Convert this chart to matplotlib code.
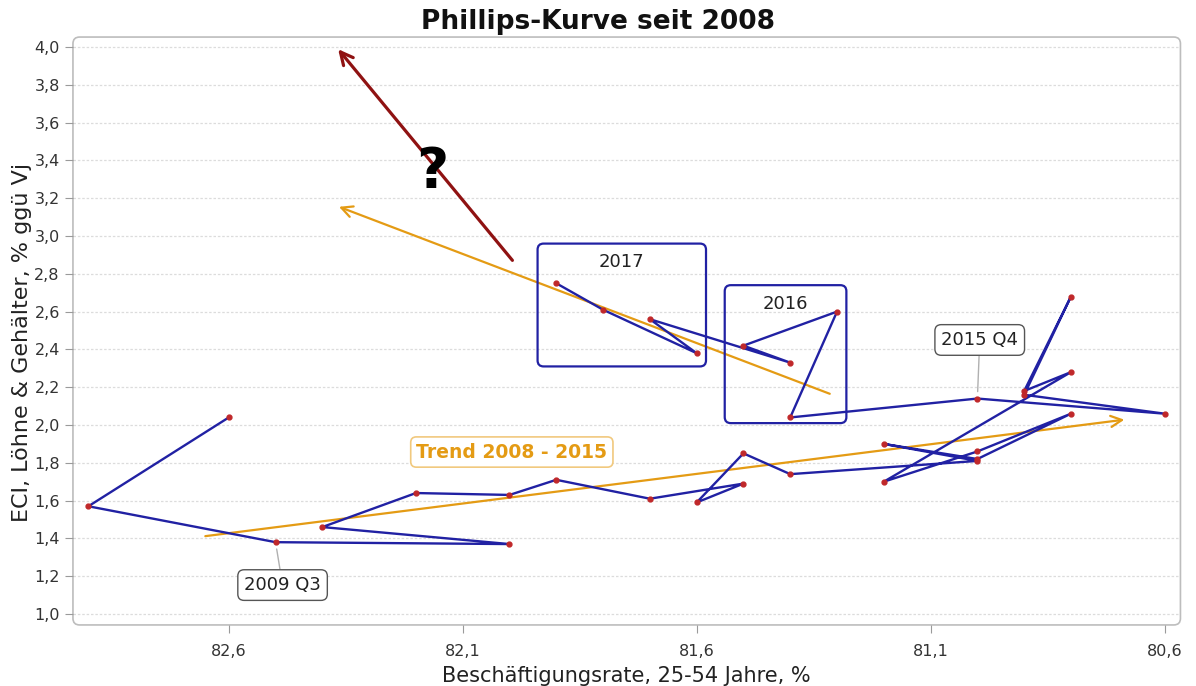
import matplotlib
matplotlib.use("Agg")
import matplotlib.pyplot as plt
from matplotlib.patches import FancyBboxPatch, FancyArrowPatch

# Beschäftigungsrate (x) und ECI (y), Quartale in zeitlicher Folge
emp = [82.6, 82.9, 82.5, 82.0, 82.4, 82.2, 82.0, 81.9, 81.7, 81.5, 81.6,
       81.5, 81.4, 81.0, 81.2, 81.0, 80.8, 81.0, 81.2, 80.8, 80.9, 80.8,
       80.9, 80.6, 81.0, 81.4, 81.3, 81.5, 81.4, 81.7, 81.6, 81.8, 81.9]
eci = [2.04, 1.57, 1.38, 1.37, 1.46, 1.64, 1.63, 1.71, 1.61, 1.69, 1.59,
       1.85, 1.74, 1.81, 1.90, 1.82, 2.06, 1.86, 1.70, 2.28, 2.18, 2.68,
       2.16, 2.06, 2.14, 2.04, 2.60, 2.42, 2.33, 2.56, 2.38, 2.61, 2.75]

# Trendpfeile: (x0, y0, x1, y1)
trend_0815 = (82.656, 1.41, 80.68, 2.03)
trend_1617 = (81.31, 2.16, 82.37, 3.16)
question_arrow = (81.99, 2.86, 82.37, 4.0)

# Jahresboxen: label, x_links, x_rechts, y_unten, y_oben
year_boxes = [("2017", 81.94, 81.58, 2.31, 2.96),
              ("2016", 81.54, 81.28, 2.01, 2.74)]

y_ticks = [1.0, 1.2, 1.4, 1.6, 1.8, 2.0, 2.2, 2.4, 2.6, 2.8, 3.0, 3.2,
           3.4, 3.6, 3.8, 4.0]
x_ticks = [82.6, 82.1, 81.6, 81.1, 80.6]

blue = "#2121a3"
orange = "#e49b14"
darkred = "#8f1212"

fig = plt.figure(figsize=(11.96, 6.86), dpi=100)
ax = fig.add_axes([0.061, 0.089, 0.926, 0.857])

ax.set_xlim(82.933, 80.566)
ax.set_ylim(0.942, 4.053)

# Gitter und Rahmen
for yt in y_ticks:
    ax.axhline(yt, color="#dcdcdc", lw=0.9, ls=(0, (2, 1.5)), zorder=0)
for s in ax.spines.values():
    s.set_visible(False)
frame = FancyBboxPatch((0, 0), 1, 1, boxstyle="round,pad=0,rounding_size=0.006",
                       mutation_aspect=1.88, transform=ax.transAxes,
                       fill=False, ec="#bdbdbd", lw=1.2, clip_on=False)
ax.add_patch(frame)

ax.set_yticks(y_ticks)
ax.set_yticklabels([f"{v:.1f}".replace(".", ",") for v in y_ticks])
ax.set_xticks(x_ticks)
ax.set_xticklabels([f"{v:.1f}".replace(".", ",") for v in x_ticks])
ax.tick_params(axis="both", color="#9a9a9a", length=6, labelsize=11.5,
               labelcolor="#333333")
ax.tick_params(axis="x", pad=8)

# Trendpfeile
x0, y0, x1, y1 = trend_0815
ax.add_patch(FancyArrowPatch((x0, y0), (x1, y1), arrowstyle="->,head_length=8,head_width=4",
                             color=orange, lw=1.6, zorder=2))
x0, y0, x1, y1 = trend_1617
ax.add_patch(FancyArrowPatch((x0, y0), (x1, y1), arrowstyle="->,head_length=8,head_width=4",
                             color=orange, lw=1.6, zorder=2))
x0, y0, x1, y1 = question_arrow
ax.add_patch(FancyArrowPatch((x0, y0), (x1, y1), arrowstyle="->,head_length=9,head_width=4.5",
                             color=darkred, lw=2.3, zorder=2))
ax.text(82.166, 3.34, "?", fontsize=40, fontweight="bold", ha="center",
        va="center", color="black", zorder=3)

# Jahresboxen
for label, xl, xr, yb, yt in year_boxes:
    box = FancyBboxPatch((xr, yb), xl - xr, yt - yb,
                         boxstyle="round,pad=0,rounding_size=0.013",
                         mutation_aspect=2.48, fill=False, ec=blue, lw=1.6, zorder=3)
    ax.add_patch(box)
    ax.text((xl + xr) / 2, yt - 0.1, label, ha="center", va="center",
            fontsize=13, color="#222222", zorder=4)

# Datenreihe
ax.plot(emp, eci, color=blue, lw=1.7, zorder=4)
ax.plot(emp, eci, "o", color="#c0282a", ms=3.5, zorder=5)

# Beschriftungen
lbl_box = dict(boxstyle="round,pad=0.35", fc="white", ec="#555555", lw=1)
ax.annotate("2009 Q3", xy=(82.5, 1.38), xytext=(82.485, 1.153),
            ha="center", va="center", fontsize=13, color="#222222", bbox=lbl_box,
            arrowprops=dict(arrowstyle="-", color="#b0b0b0", lw=1,
                            shrinkA=0, shrinkB=5), zorder=6)
ax.annotate("2015 Q4", xy=(81.0, 2.14), xytext=(80.995, 2.45),
            ha="center", va="center", fontsize=13, color="#222222", bbox=lbl_box,
            arrowprops=dict(arrowstyle="-", color="#b0b0b0", lw=1,
                            shrinkA=0, shrinkB=5), zorder=6)
ax.text(81.995, 1.857, "Trend 2008 - 2015", ha="center", va="center",
        fontsize=13.5, fontweight="bold", color=orange, zorder=6,
        bbox=dict(boxstyle="round,pad=0.3", fc="white", ec="#f1c97e", lw=1.2))

ax.set_xlabel("Beschäftigungsrate, 25-54 Jahre, %", fontsize=15, color="#222222",
              labelpad=5)
ax.set_ylabel("ECI, Löhne & Gehälter, % ggü Vj", fontsize=16, color="#222222")
ax.yaxis.set_label_coords(-0.037, 0.48)
fig.text(0.5, 0.968, "Phillips-Kurve seit 2008", ha="center", va="center",
         fontsize=19, fontweight="bold", color="#111111")

fig.savefig("out.png", dpi=100)
